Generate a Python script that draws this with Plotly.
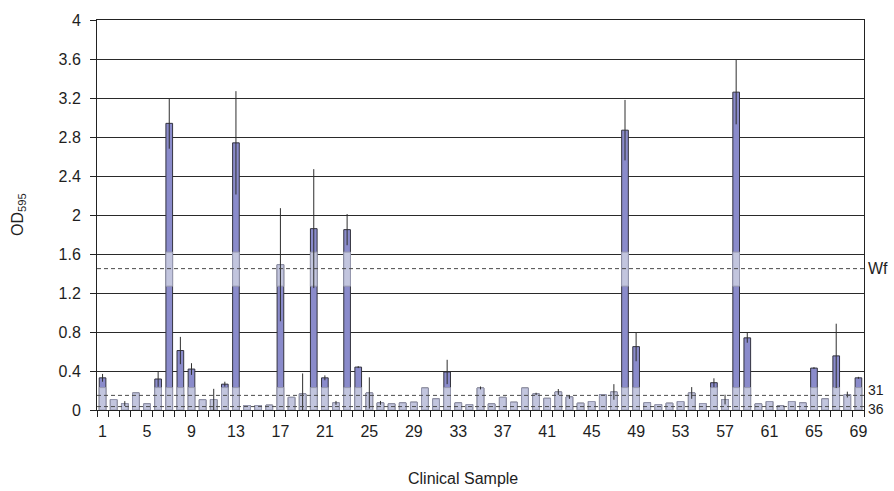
import numpy as np
import plotly.graph_objects as go

# OD595 readings per clinical sample (mean and standard deviation)
samples = list(range(1, 70))
od_mean = [
    0.33, 0.107, 0.066, 0.175, 0.063, 0.318, 2.94, 0.61, 0.42, 0.105,
    0.107, 0.265, 2.74, 0.046, 0.046, 0.05, 1.49, 0.13, 0.165, 1.86,
    0.33, 0.073, 1.85, 0.44, 0.175, 0.073, 0.063, 0.073, 0.08, 0.226,
    0.114, 0.39, 0.073, 0.056, 0.226, 0.063, 0.13, 0.08, 0.226, 0.165,
    0.12, 0.185, 0.134, 0.07, 0.087, 0.158, 0.185, 2.87, 0.65, 0.075,
    0.056, 0.07, 0.087, 0.175, 0.066, 0.28, 0.107, 3.26, 0.74, 0.063,
    0.087, 0.043, 0.087, 0.073, 0.43, 0.114, 0.555, 0.158, 0.33,
]
od_sd = [
    0.04, 0.0, 0.025, 0.0, 0.0, 0.08, 0.26, 0.14, 0.06, 0.0,
    0.11, 0.025, 0.53, 0.0, 0.0, 0.0, 0.58, 0.0, 0.21, 0.61,
    0.025, 0.02, 0.16, 0.01, 0.16, 0.02, 0.0, 0.0, 0.0, 0.0,
    0.0, 0.125, 0.0, 0.0, 0.015, 0.0, 0.0, 0.0, 0.0, 0.012,
    0.0, 0.03, 0.02, 0.0, 0.0, 0.0, 0.08, 0.31, 0.15, 0.0,
    0.0, 0.0, 0.0, 0.06, 0.0, 0.045, 0.05, 0.33, 0.05, 0.0,
    0.0, 0.0, 0.0, 0.0, 0.01, 0.0, 0.33, 0.03, 0.01,
]

# Reference strain cut-off levels
ref_names = ["Wf", "31", "36"]
ref_levels = [1.45, 0.15, 0.035]

y_tick_vals = [0, 0.4, 0.8, 1.2, 1.6, 2, 2.4, 2.8, 3.2, 3.6, 4]
y_tick_text = ["0", "0.4", "0.8", "1.2", "1.6", "2", "2.4", "2.8", "3.2", "3.6", "4"]
x_tick_vals = list(range(1, 70, 4))

# shaded value bands drawn lighter on each bar
LOW_BAND = (0.0, 0.23)
MID_BAND = (1.27, 1.62)

v = np.array(od_mean)


def band_part(lo, hi):
    h = np.clip(v, lo, hi) - lo
    return [float(x) if x > 0 else None for x in h]


DARK = "#8a8bcb"
DARK_EDGE = "#33333f"
LIGHT = "#c2c5de"
LIGHT_EDGE = "#9799b0"
FONT = "Liberation Sans, Arial, sans-serif"
TEXT = "#1e1e1e"

fig = go.Figure()
fig.add_trace(go.Bar(
    x=samples, y=od_mean,
    marker=dict(color=DARK, line=dict(color=DARK_EDGE, width=1), opacity=1),
    hoverinfo="skip", showlegend=False,
))
for lo, hi in (LOW_BAND, MID_BAND):
    fig.add_trace(go.Bar(
        x=samples, y=band_part(lo, hi), base=lo,
        marker=dict(color=LIGHT, line=dict(color=LIGHT_EDGE, width=1), opacity=1),
        hoverinfo="skip", showlegend=False,
    ))

# error bars for each sample
fig.add_trace(go.Scatter(
    x=samples, y=od_mean, mode="markers",
    marker=dict(size=1, opacity=0),
    error_y=dict(type="data", array=od_sd, visible=True,
                 color="#2e2e2e", thickness=1, width=0),
    hoverinfo="skip", showlegend=False,
))

# dashed cut-off lines with labels at the right
label_style = {"Wf": (16, 0), "31": (14, 5), "36": (14, -2.5)}
for name, lvl in zip(ref_names, ref_levels):
    size, shift = label_style[name]
    fig.add_shape(type="line", xref="paper", x0=0, x1=1, yref="y", y0=lvl, y1=lvl,
                  line=dict(color="#4a4a4a", width=1, dash="4px,3px"), layer="above")
    fig.add_annotation(text=name, xref="paper", x=1, xanchor="left", xshift=3,
                       yref="y", y=lvl, yanchor="middle", yshift=shift,
                       showarrow=False, borderpad=0,
                       font=dict(family=FONT, size=size, color=TEXT))

fig.add_annotation(text="OD<sub>595</sub>", xref="paper", x=0, xshift=-79, xanchor="center",
                   yref="paper", y=0.5, yanchor="middle", textangle=-90, showarrow=False,
                   font=dict(family=FONT, size=16, color=TEXT))
fig.add_annotation(text="Clinical Sample", xref="paper", x=0.477, xanchor="center",
                   yref="paper", y=0, yshift=-68, yanchor="middle", showarrow=False,
                   font=dict(family=FONT, size=16, color=TEXT))

fig.update_layout(
    width=894, height=491,
    margin=dict(l=97, r=30, t=18, b=81),
    paper_bgcolor="white", plot_bgcolor="white",
    barmode="overlay", bargap=0.4,
    font=dict(family=FONT, size=16, color=TEXT),
    xaxis=dict(
        range=[0.5, 69.5], tickvals=x_tick_vals, ticks="",
        showline=True, linecolor="#222", linewidth=1, mirror=True,
        showgrid=False, zeroline=False, ticklabelstandoff=7,
        minor=dict(tick0=0.5, dtick=1, ticks="outside", ticklen=6,
                   tickcolor="#222", tickwidth=1, showgrid=False),
        tickfont=dict(family=FONT, size=16, color=TEXT),
    ),
    yaxis=dict(
        range=[0, 4], tickvals=y_tick_vals, ticktext=y_tick_text,
        ticks="outside", ticklen=6, tickcolor="#222",
        showline=True, linecolor="#222", linewidth=1, mirror=True,
        showgrid=True, gridcolor="#2a2a2a", gridwidth=1, zeroline=False,
        ticklabelstandoff=6,
        tickfont=dict(family=FONT, size=16, color=TEXT),
    ),
)

fig.write_html("out.html")
